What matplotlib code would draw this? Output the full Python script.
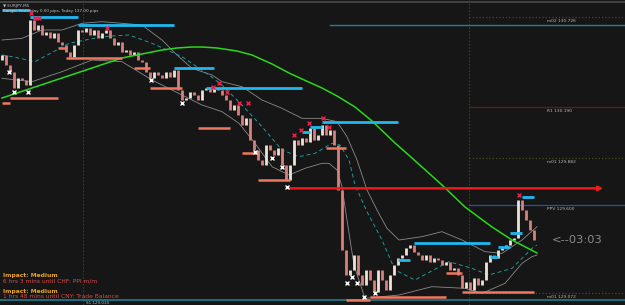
import matplotlib
matplotlib.use("Agg")
import matplotlib.pyplot as plt
import numpy as np

# ---- data (prices) ----
closes = [130.50, 130.44, 130.40, 130.30, 130.36, 130.35, 130.32, 130.71, 130.65, 130.68,
          130.62, 130.64, 130.60, 130.63, 130.58, 130.56, 130.52, 130.49, 130.56, 130.65,
          130.64, 130.66, 130.62, 130.65, 130.60, 130.63, 130.65, 130.60, 130.56, 130.58,
          130.52, 130.53, 130.50, 130.52, 130.47, 130.46, 130.40, 130.36, 130.40, 130.38,
          130.36, 130.40, 130.37, 130.41, 130.29, 130.23, 130.24, 130.28, 130.26, 130.23,
          130.29, 130.30, 130.28, 130.30, 130.29, 130.26, 130.23, 130.17, 130.20, 130.14,
          130.08, 130.12, 129.99, 129.93, 129.87, 129.84, 129.96, 129.93, 129.90, 129.94,
          129.84, 129.75, 129.84, 129.99, 129.96, 130.00, 129.98, 130.06, 129.99, 130.02,
          130.08, 130.02, 130.05, 129.96, 129.69, 129.33, 129.18, 129.21, 129.30, 129.18,
          129.12, 129.21, 129.15, 129.08, 129.21, 129.15, 129.09, 129.18, 129.24, 129.28,
          129.30, 129.34, 129.36, 129.32, 129.30, 129.27, 129.30, 129.26, 129.28, 129.27,
          129.24, 129.26, 129.21, 129.22, 129.18, 129.10, 129.14, 129.09, 129.16, 129.12,
          129.15, 129.26, 129.30, 129.28, 129.33, 129.34, 129.36, 129.39, 129.40, 129.63,
          129.57, 129.51, 129.45, 129.39]
first_open = 130.47

upper_bars = [0, 5, 10, 15, 20, 25, 30, 35, 40, 43.75, 47.5, 52.5, 55, 60, 65, 70, 75, 80,
              83.75, 86.25, 88.75, 91.25, 93.75, 96.25, 99.25, 105, 110, 115, 120.75, 125, 130, 133.75]
upper_band = [130.59, 130.60, 130.65, 130.65, 130.69, 130.70, 130.69, 130.68, 130.59, 130.50,
              130.42, 130.38, 130.34, 130.31, 130.23, 130.18, 130.12, 130.12, 130.10, 130.01,
              129.87, 129.69, 129.57, 129.46, 129.39, 129.41, 129.44, 129.39, 129.32, 129.31,
              129.39, 129.47]

mid_bars = [0, 2.5, 8.25, 16.75, 25, 31.75, 37.5, 45, 51.75, 55, 60, 65, 70, 74.25, 78.25,
            82.5, 84.5, 86.75, 88.25, 91.25, 95, 98.25, 103.25, 111.75, 117.5, 121.75, 127.5,
            132.5, 133.75]
mid_band = [130.50, 130.49, 130.46, 130.57, 130.61, 130.62, 130.57, 130.49, 130.38, 130.32,
            130.20, 130.07, 129.93, 129.89, 129.91, 129.97, 129.96, 129.87, 129.72, 129.56,
            129.39, 129.21, 129.15, 129.26, 129.22, 129.18, 129.22, 129.34, 129.36]

lower_bars = [0, 7.5, 15, 22.5, 30, 37.5, 45, 50, 55, 59.25, 63.25, 67.5, 71.75, 75.75, 80,
              81.75, 83.75, 85, 86.25, 88, 90.75, 99.25, 107.5, 115.75, 120, 125.75, 130,
              132.5, 133.75]
lower_band = [130.36, 130.34, 130.40, 130.47, 130.46, 130.35, 130.26, 130.20, 130.16, 130.09,
              129.97, 129.83, 129.78, 129.82, 129.85, 129.85, 129.81, 129.71, 129.51, 129.24,
              129.04, 129.06, 129.11, 129.10, 129.07, 129.13, 129.25, 129.29, 129.30]

ma_bars = [0, 7.5, 15, 22.5, 30, 35, 40, 43.75, 47.5, 50, 53.75, 58.75, 62.5, 67.5, 71.75, 75,
           80, 83.75, 88.25, 92.5, 98.25, 102.5, 105, 110, 115.75, 122.5, 127.5, 133.75]
ma_vals = [130.242, 130.302, 130.362, 130.422, 130.482, 130.506, 130.530, 130.542, 130.548,
           130.548, 130.542, 130.524, 130.500, 130.446, 130.392, 130.356, 130.302, 130.254,
           130.188, 130.104, 129.972, 129.882, 129.828, 129.720, 129.588, 129.468, 129.390, 129.312]

# resistance (start bar, end bar, price)
resist = [(0, 7, 130.77), (7, 19, 130.73), (19, 43, 130.68), (43, 53, 130.42), (51, 75, 130.30),
          (75, 77, 130.04), (77, 80, 130.07), (80, 99, 130.10), (99, 102, 129.27),
          (103, 122, 129.37), (122, 124, 129.29), (124, 127, 129.35), (127, 130, 129.43),
          (130, 133, 129.65)]
support = [(0, 2, 130.21), (2, 14, 130.24), (14, 16, 130.54), (16, 30, 130.48), (33, 37, 130.42),
           (37, 45, 130.30), (49, 57, 130.06), (60, 64, 129.91), (64, 72, 129.75),
           (81, 86, 129.94), (86, 92, 129.03), (92, 111, 129.05), (111, 115, 129.19),
           (115, 133, 129.08)]

red_x = [7.25, 8.25, 9.25, 26.25, 52.75, 54.25, 56.25, 59.25, 61.5, 73, 74.75, 76.75, 80.25, 81.75, 129.25]
red_y = [130.75, 130.72, 130.72, 130.66, 130.31, 130.33, 130.28, 130.21, 130.21, 130.02, 130.05,
         130.09, 130.12, 130.07, 129.66]
white_x = [1.75, 3, 6.5, 37.25, 45, 63.25, 67.5, 70, 71.25, 86.25, 87.5, 88.75, 90.5, 93.25]
white_y = [130.40, 130.28, 130.28, 130.35, 130.21, 129.92, 129.88, 129.83, 129.71, 129.13, 129.17,
           129.13, 129.05, 129.07]

arrow_level = (71, 151, 129.70)

levels = [("m02", 130.726), ("R1", 130.190), ("m01", 129.882), ("PPV", 129.600), ("m01", 129.072)]
level_styles = [("#4a4a22", ":"), ("#6a1818", "-"), ("#4a4a22", ":"), ("#2452a8", "-"), ("#4a4a22", ":")]
s1_level = 129.030
teal_top = 130.680

news = ["Impact: Medium", "6 hrs 3 mins until CHF: PPI m/m",
        "Impact: Medium", "1 hrs 48 mins until CNY: Trade Balance"]

# ---- drawing ----
BG = "#161616"
fig = plt.figure(figsize=(6.25, 3.05), dpi=100, facecolor=BG)
ax = fig.add_axes([0, 0, 1, 1], facecolor=BG)
ax.set_xlim(-0.5, 155.75)
ax.set_ylim(129.00, 130.83)
ax.axis("off")

n = len(closes)
xs = np.arange(n)
opens = [first_open] + closes[:-1]

# frame / vertical separators
ax.axhline(130.818, color="#4a4a4a", lw=1.2)
for vx in (20.25, 116.75):
    ax.axvline(vx, color="#3c3c28", lw=0.8, ls=(0, (1.5, 1.5)))

# right side levels
for (name, val), (col, ls) in zip(levels, level_styles):
    ax.plot([116.75, 155.75], [val, val], color=col, lw=0.9, ls=ls)
    ax.text(136.2, val - 0.012, f"{name} {val:.3f}", color="#b8b8b8", fontsize=3.2,
            va="top", ha="left")
ax.plot([82, 155.75], [teal_top, teal_top], color="#1d7f92", lw=1.0)
ax.axhline(s1_level, color="#1d7f92", lw=1.2)
ax.text(21, s1_level - 0.008, f"S1 {s1_level:.3f}", color="#b8b8b8", fontsize=3.0, va="top")

# bands
ax.plot(upper_bars, upper_band, color="#8a8a8a", lw=0.6)
ax.plot(lower_bars, lower_band, color="#8a8a8a", lw=0.6)
ax.plot(mid_bars, mid_band, color="#1f9a9a", lw=0.7, ls=(0, (4, 3)))

# candles (bodies): rising -> white, falling -> salmon
for i in range(n):
    o, c = opens[i], closes[i]
    col = "#ece4d6" if c > o else "#d97f7c"
    ax.plot([xs[i], xs[i]], [o, c], color=col, lw=2.0, solid_capstyle="butt")

# moving average
ax.plot(ma_bars, ma_vals, color="#2ad81c", lw=1.1)

# support / resistance segments
for s, e, p in resist:
    ax.plot([s, e], [p, p], color="#1fb8f0", lw=2.0, solid_capstyle="butt")
for s, e, p in support:
    ax.plot([s, e], [p, p], color="#f0785e", lw=1.8, solid_capstyle="butt")

# red arrow
s, e, p = arrow_level
ax.annotate("", xy=(e, p), xytext=(s, p),
            arrowprops=dict(arrowstyle="-|>", color="#f01818", lw=1.8, mutation_scale=6))

# markers
ax.scatter(red_x, red_y, marker="x", color="#e8204a", s=8, lw=1.0, zorder=5)
ax.scatter(white_x, white_y, marker="x", color="#ffffff", s=8, lw=1.0, zorder=5)

# countdown
ax.text(137.5, 129.39, "<--03:03", color="#8c8c8c", fontsize=8.2, va="center", ha="left")

# top-left header
fig.text(0.005, 0.988, "\u25bc EURJPY,M5", color="#c0c0c0", fontsize=3, va="top")
fig.text(0.005, 0.972, "Range: Yesterday 0.00 pips, Today 137.00 pips", color="#c0c0c0",
         fontsize=3, va="top")

# news
ys = [275, 281, 291, 297]
cols = ["#e8a428", "#d84a4a", "#e8a428", "#d84a4a"]
for t, yy, cc in zip(news, ys, cols):
    fig.text(0.005, 1 - yy / 305, t, color=cc, fontsize=4.3, va="center",
             fontweight="bold" if t.startswith("Impact") else "normal")

fig.savefig("out.png", dpi=100, facecolor=BG)
